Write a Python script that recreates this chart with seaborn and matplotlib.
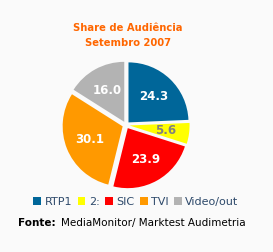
import matplotlib
matplotlib.use("Agg")
import matplotlib.pyplot as plt
import seaborn as sns
from matplotlib.patches import Patch

categories = ["RTP1", "2:", "SIC", "TVI", "Video/out"]
values = [24.3, 5.6, 23.9, 30.1, 16.0]
colors = ["#006699", "#FFFF00", "#FF0000", "#FF9900", "#B3B3B3"]
label_colors = ["white", "#808080", "white", "white", "white"]

sns.set_style("white")
plt.rcParams["font.family"] = ["DejaVu Sans"]

W, H = 273, 252
fig = plt.figure(figsize=(W / 100, H / 100), dpi=100)
fig.patch.set_facecolor("#FAFAFA")

cx, cy, rpx = 126, 252 - 125, 60
half = rpx * 1.1
ax = fig.add_axes([(cx - half) / W, (cy - half) / H, 2 * half / W, 2 * half / H])
ax.set_facecolor("#FAFAFA")

it = iter(values)
wedges, texts, autotexts = ax.pie(
    values, colors=colors, startangle=90, counterclock=False,
    explode=[0.06] * len(values), autopct=lambda p: f"{next(it):.1f}",
    pctdistance=0.6, wedgeprops=dict(linewidth=0),
)
for t, c in zip(autotexts, label_colors):
    t.set_color(c)
    t.set_fontweight("bold")
    t.set_fontsize(8.5)
ax.set_xlim(-1.1, 1.1)
ax.set_ylim(-1.1, 1.1)
ax.set_aspect("equal")
ax.axis("off")

fig.text(128 / W, 1 - 28 / H, "Share de Audiência", ha="center", va="center",
         color="#FF6600", fontweight="bold", fontsize=7.2)
fig.text(128 / W, 1 - 43 / H, "Setembro 2007", ha="center", va="center",
         color="#FF6600", fontweight="bold", fontsize=7.2)

handles = [Patch(facecolor=c, edgecolor="none") for c in colors]
leg = fig.legend(handles, categories, loc="center", bbox_to_anchor=(136 / W, 1 - 202 / H),
                 ncol=5, frameon=False, fontsize=8, handlelength=0.7, handleheight=0.7,
                 handletextpad=0.3, columnspacing=0.5, borderpad=0)
for t in leg.get_texts():
    t.set_color("#2E4A6B")

fig.text(18 / W, 1 - 223 / H, "Fonte:", ha="left", va="center", fontweight="bold",
         fontsize=7.5, color="black")
fig.text(61 / W, 1 - 223 / H, "MediaMonitor/ Marktest Audimetria", ha="left", va="center",
         fontsize=7.5, color="black")

fig.savefig("out.png", dpi=100, facecolor=fig.get_facecolor())
